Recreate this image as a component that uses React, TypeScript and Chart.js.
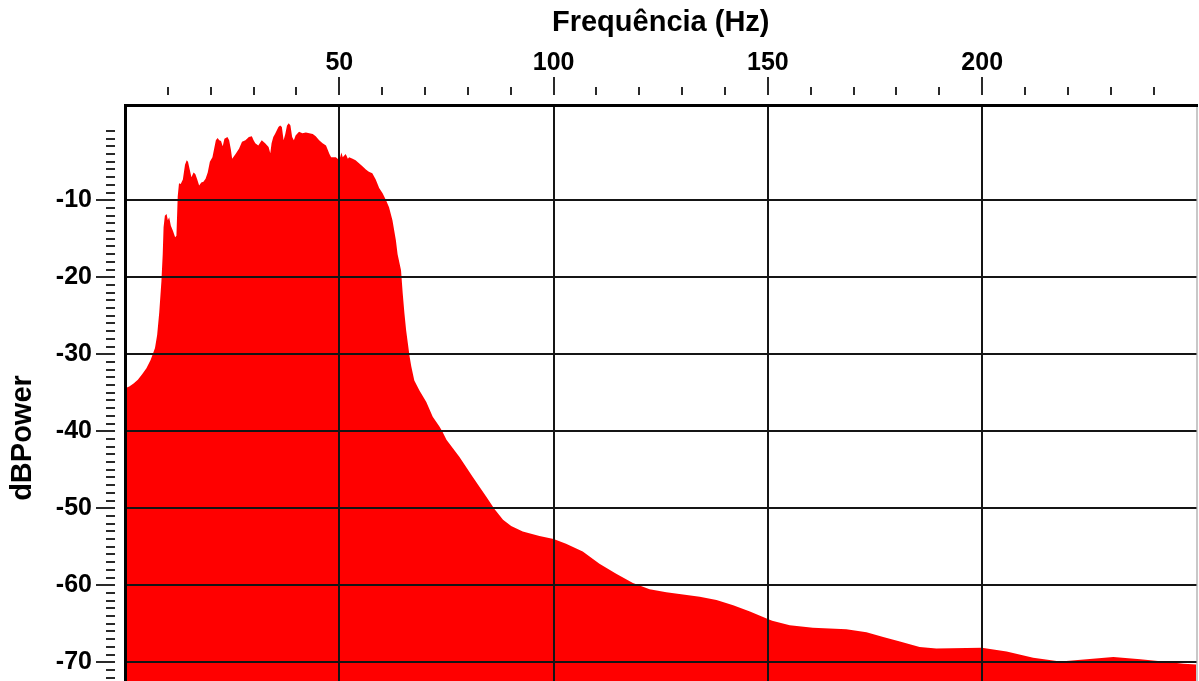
import React, { useEffect, useRef } from "react";
import { Chart, registerables } from "chart.js";

Chart.register(...registerables);

// Power spectrum: frequency (Hz) and power (dB)
const freqHz = [
  0, 1, 2, 3, 4, 5, 6, 7, 7.5, 8, 8.5, 8.8, 9.0, 9.3, 9.7, 10.0, 10.3, 10.7, 11.2, 11.7,
  12.0, 12.3, 12.6, 13.0, 13.5, 14.0, 14.4, 14.7, 15.1, 15.5, 16.0, 16.4, 16.8, 17.3, 17.8,
  18.3, 18.8, 19.3, 19.8, 20.4, 21.2, 21.6, 22.0, 22.4, 22.8, 23.2, 23.9, 24.3, 24.7, 25.0,
  25.8, 26.6, 27.3, 28.1, 28.9, 29.6, 30.0, 30.4, 31.1, 31.9, 32.7, 33.5, 33.9, 34.2, 34.6,
  35.0, 35.8, 36.2, 36.6, 37.0, 37.4, 37.8, 38.2, 38.6, 39.0, 39.4, 39.8, 40.6, 41.4, 42.2,
  43.0, 43.8, 44.5, 45.3, 46.1, 46.9, 47.7, 48.1, 49.2, 50.0, 50.5, 50.8, 51.5, 52.0, 52.3,
  53.1, 53.8, 54.6, 55.4, 56.2, 56.9, 57.7, 58.5, 59.3, 60.1, 60.9, 61.6, 62.4, 63.2, 63.6,
  64.4, 64.8, 65.2, 65.6, 66.0, 66.4, 66.8, 67.5, 68.7, 70.3, 71.8, 73.4, 74.1, 75.0, 78.0,
  81.1, 84.3, 86.2, 88.2, 90.1, 92.8, 96.7, 100.0, 102.9, 106.8, 110.7, 114.6, 118.5, 122.4,
  126.3, 130.2, 134.1, 138.0, 141.9, 145.8, 149.7, 151.0, 155.1, 160.5, 168.3, 173.0, 176.9,
  180.8, 185.4, 189.3, 199.9, 205.7, 211.9, 218.2, 224.4, 230.6, 236.9, 242.2, 247.0, 250.0,
];

const powerDb = [
  -34.4, -34.2, -33.8, -33.3, -32.6, -31.8, -30.7, -29.2, -27.5, -24.5, -20.5, -17.0, -13.5, -12.0, -11.8, -12.6, -12.2, -13.3, -14.0, -14.8,
  -14.6, -9.5, -7.8, -7.9, -7.3, -5.4, -4.8, -5.0, -6.0, -7.0, -6.4, -6.6, -7.2, -8.1, -7.7,
  -7.6, -7.2, -6.4, -5.0, -4.4, -2.2, -1.9, -2.2, -2.3, -3.0, -2.0, -1.8, -2.2, -3.4, -4.6,
  -4.0, -3.3, -2.4, -2.2, -1.8, -1.7, -2.2, -2.6, -2.9, -2.2, -2.6, -3.1, -3.9, -2.6, -1.8,
  -1.4, -0.5, -0.3, -0.5, -2.2, -1.4, -0.3, 0.0, -0.3, -1.8, -2.2, -1.6, -1.1, -1.3, -1.2,
  -1.3, -1.4, -1.7, -2.2, -2.6, -2.9, -4.0, -4.4, -4.4, -4.8, -3.8, -4.4, -4.0, -4.6, -4.4,
  -4.6, -4.8, -5.2, -5.6, -6.0, -6.3, -6.5, -7.3, -8.4, -9.1, -10.0, -10.9, -12.6, -15.2, -17.0,
  -19.1, -22.1, -24.7, -26.9, -28.6, -30.3, -31.6, -33.4, -34.7, -36.2, -38.1, -39.4, -40.1, -41.1, -43.3,
  -45.9, -48.5, -50.1, -51.5, -52.3, -53.0, -53.6, -54.0, -54.6, -55.6, -57.2, -58.5, -59.7, -60.5,
  -60.9, -61.2, -61.5, -61.9, -62.6, -63.4, -64.3, -64.6, -65.2, -65.5, -65.7, -66.1, -66.7,
  -67.3, -68.0, -68.2, -68.1, -68.6, -69.4, -69.9, -69.6, -69.3, -69.6, -69.9, -70.2, -70.3,
];

// Labelled ticks
const freqLabels = [50, 100, 150, 200];
const dbLabels = [-10, -20, -30, -40, -50, -60, -70];

// Axis titles
const X_TITLE = "Frequência (Hz)";
const Y_TITLE = "dBPower";

// Axis ranges and minor tick spacing
const FREQ_MIN = 0;
const FREQ_MAX = 250;
const FREQ_STEP = 10;
const DB_MIN = -72.43;
const DB_MAX = 2.37;
const DB_STEP = 1;

const FONT = "'Liberation Sans', Arial, Helvetica, sans-serif";
const GRID = "#151515";

function stepsBetween(from: number, to: number, step: number): number[] {
  const out: number[] = [];
  for (let v = from; v <= to + 1e-9; v += step) out.push(Math.round(v * 1000) / 1000);
  return out;
}

// Keep the plot frame fixed: no extra padding for label overflow
function clearPadding(s: any) {
  s.paddingTop = 0;
  s.paddingBottom = 0;
  s.paddingLeft = 0;
  s.paddingRight = 0;
}

// Short detached tick marks outside the plot frame, plus the vertical axis title
const axisDecor = {
  id: "axisDecor",
  afterDraw(chart: any) {
    const { ctx, chartArea, scales } = chart;
    const xs = scales.x;
    const ys = scales.y;
    ctx.save();
    ctx.strokeStyle = "#2a2a2a";
    ctx.lineWidth = 2;
    ctx.beginPath();
    for (const t of xs.ticks) {
      if (t.value <= FREQ_MIN || t.value >= FREQ_MAX) continue;
      const px = Math.round(xs.getPixelForValue(t.value));
      const major = freqLabels.includes(t.value);
      ctx.moveTo(px, Math.round(chartArea.top) - (major ? 28 : 18));
      ctx.lineTo(px, Math.round(chartArea.top) - 10);
    }
    for (const t of ys.ticks) {
      const py = Math.round(ys.getPixelForValue(t.value));
      const major = dbLabels.includes(t.value);
      ctx.moveTo(Math.round(chartArea.left) - (major ? 29 : 19), py);
      ctx.lineTo(Math.round(chartArea.left) - 10, py);
    }
    ctx.stroke();

    ctx.translate(23, chartArea.top + 333);
    ctx.rotate(-Math.PI / 2);
    ctx.fillStyle = "#000";
    ctx.font = `bold 29px ${FONT}`;
    ctx.textAlign = "center";
    ctx.textBaseline = "middle";
    ctx.fillText(Y_TITLE, 0, 0);
    ctx.restore();
  },
};

export default function App() {
  const canvasRef = useRef<HTMLCanvasElement | null>(null);

  useEffect(() => {
    document.body.style.margin = "0";
    const canvas = canvasRef.current;
    if (!canvas) return;

    const points = freqHz.map((f, i) => ({ x: f, y: powerDb[i] }));

    const chart = new Chart(canvas, {
      type: "line",
      data: {
        datasets: [
          {
            data: points,
            fill: "start",
            backgroundColor: "#ff0000",
            borderWidth: 0,
            borderColor: "rgba(0,0,0,0)",
            pointRadius: 0,
            tension: 0,
          },
        ],
      },
      options: {
        animation: false,
        responsive: false,
        devicePixelRatio: 1,
        layout: { autoPadding: false, padding: { left: 0, right: 2.5, top: 0, bottom: 0 } },
        plugins: {
          legend: { display: false },
          tooltip: { enabled: false },
        },
        scales: {
          x: {
            type: "linear",
            position: "top",
            min: FREQ_MIN,
            max: FREQ_MAX,
            bounds: "data",
            afterBuildTicks: (s: any) => {
              s.ticks = stepsBetween(FREQ_MIN, FREQ_MAX, FREQ_STEP).map((value) => ({ value }));
            },
            afterFit: (s: any) => {
              s.height = 105;
              clearPadding(s);
            },
            ticks: {
              autoSkip: false,
              maxRotation: 0,
              padding: 27,
              color: "#000",
              font: { family: FONT, size: 25, weight: "bold" },
              callback: (v: any) => (freqLabels.includes(Number(v)) ? String(v) : ""),
            },
            grid: {
              z: 1,
              drawTicks: false,
              lineWidth: 2,
              color: (c: any) => {
                const v = c.tick && c.tick.value;
                if (freqLabels.includes(v)) return GRID;
                if (v === FREQ_MAX) return "#c8c8c8";
                return "rgba(0,0,0,0)";
              },
            },
            border: { display: true, color: "#000", width: 3, z: 2 },
            title: {
              display: true,
              text: X_TITLE,
              color: "#000",
              font: { family: FONT, size: 29, weight: "bold" },
              padding: { top: 6, bottom: 0 },
            },
          },
          y: {
            type: "linear",
            position: "left",
            min: DB_MIN,
            max: DB_MAX,
            bounds: "data",
            afterBuildTicks: (s: any) => {
              s.ticks = stepsBetween(-72, -1, DB_STEP).map((value) => ({ value }));
            },
            afterFit: (s: any) => {
              s.width = 125;
              clearPadding(s);
            },
            ticks: {
              autoSkip: false,
              padding: 33,
              color: "#000",
              font: { family: FONT, size: 25, weight: "bold" },
              callback: (v: any) => (dbLabels.includes(Number(v)) ? String(v) : ""),
            },
            grid: {
              z: 1,
              drawTicks: false,
              lineWidth: 2,
              color: (c: any) => {
                const v = c.tick && c.tick.value;
                return dbLabels.includes(v) ? GRID : "rgba(0,0,0,0)";
              },
            },
            border: { display: true, color: "#000", width: 3, z: 2 },
            title: { display: false },
          },
        },
      },
      plugins: [axisDecor],
    } as any);

    return () => {
      chart.destroy();
    };
  }, []);

  return (
    <div style={{ width: 1199, height: 681, background: "#fff" }}>
      <canvas ref={canvasRef} width={1199} height={681} style={{ display: "block" }} />
    </div>
  );
}
